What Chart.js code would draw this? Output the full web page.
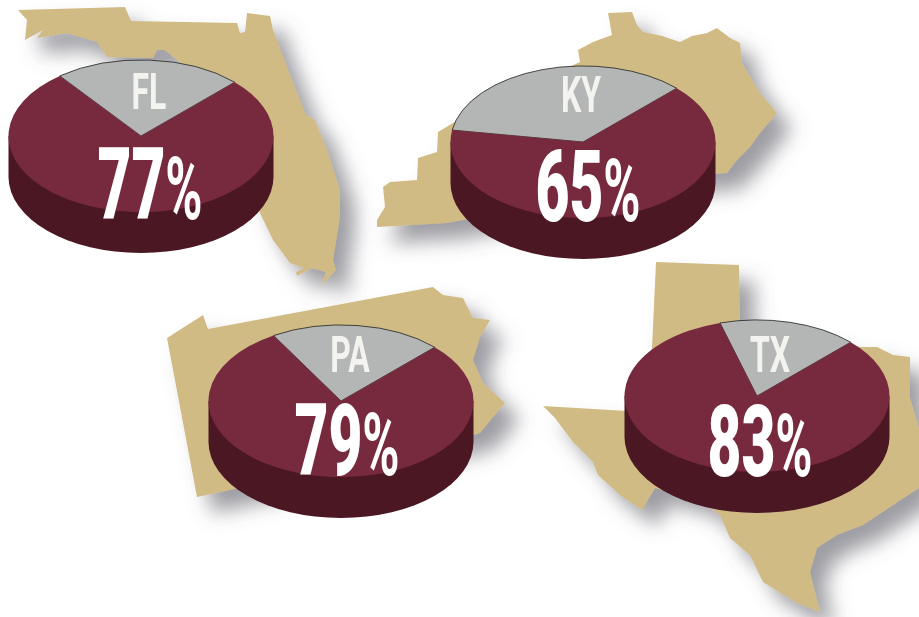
<!DOCTYPE html>
<html>
<head>
<meta charset="utf-8">
<title>State pies</title>
<script src="https://cdn.jsdelivr.net/npm/chart.js@4"></script>
<style>
html,body{margin:0;padding:0;background:#fff;overflow:hidden}
#stage{position:relative;width:919px;height:617px;overflow:hidden;background:#fff}
svg{position:absolute;left:0;top:0}
canvas{position:absolute}
.t{position:absolute;white-space:nowrap;line-height:1;color:#fff;font-family:Roboto,"Liberation Sans",sans-serif}
.pct{font-weight:900;font-size:101px}
.pct span{font-size:86%;font-weight:700}
.lab{font-weight:700;font-size:50px;color:#f3f3f0}
</style>
</head>
<body>
<div id="stage">
<svg width="919" height="617" viewBox="0 0 919 617">
<defs><filter id="sh" x="-20%" y="-20%" width="150%" height="150%"><feDropShadow dx="15" dy="16" stdDeviation="10" flood-color="#5b5b66" flood-opacity="0.6"/></filter></defs>
<g fill="#D1BB85" filter="url(#sh)">
<path id="fl"/><path id="ky"/><path id="pa"/><path id="tx"/>
</g>
</svg>
</div>
<script>
// Data
const states = ['FL', 'KY', 'PA', 'TX'];
const yesShare = [77, 65, 79, 83];
const otherShare = [23, 35, 21, 17];

// Layout (separate from the data)
const pieCentres = [[141, 136], [583, 142], [341, 401], [757, 396]];
const pctCentres = [[150, 184], [588, 186], [347, 440], [760, 441]];
const labCentres = [[149, 92], [581, 95], [350, 355], [770, 355]];
const sliceEndAngle = 45, squash = 0.574, wallDepth = 41, box = 290;
const colours = { top: '#772A3E', other: '#B4B5B5', wall: '#4A1722', edge: '#1d1d1d' };

// Decorative state silhouettes
const outlines = {
  fl: [[18,10],[125,7],[131,21],[237,23],[240,33],[245,32],[247,13],[270,16],[273,30],[287,67],[300,100],[306,115],[315,120],[328,153],[340,190],[340,217],[333,260],[336,270],[322,285],[326,272],[312,268],[297,276],[296,272],[304,268],[290,263],[273,240],[260,213],[230,130],[215,90],[177,60],[165,50],[157,50],[153,58],[107,57],[97,42],[67,33],[37,38],[43,30],[25,40],[27,20]],
  ky: [[377,227],[377,220],[385,207],[383,187],[390,182],[417,180],[418,158],[437,152],[438,132],[453,123],[520,90],[580,62],[578,50],[593,42],[612,35],[608,13],[632,12],[637,25],[643,32],[662,36],[680,42],[692,36],[707,33],[717,28],[730,38],[740,43],[742,63],[752,80],[760,93],[777,113],[760,133],[750,147],[737,160],[727,173],[700,175],[447,223]],
  pa: [[167,338],[203,315],[208,329],[433,287],[443,295],[463,298],[473,318],[490,320],[480,337],[473,360],[483,383],[505,403],[493,417],[480,433],[470,436],[230,490],[197,497]],
  tx: [[656,262],[739,265],[740,322],[790,330],[860,347],[877,347],[893,355],[910,357],[910,398],[919,428],[919,488],[893,505],[863,525],[837,535],[817,548],[810,572],[820,612],[797,603],[763,582],[750,555],[730,538],[720,515],[700,500],[655,488],[642,510],[620,495],[598,475],[593,462],[573,442],[555,418],[543,406],[627,411],[652,348]]
};
Object.keys(outlines).forEach(function (k) {
  document.getElementById(k).setAttribute('d', 'M' + outlines[k].map(function (p) { return p.join(','); }).join('L') + 'Z');
});

// Tilts the pie into an ellipse and adds the side wall below it
const tiltPlugin = {
  id: 'tilt',
  beforeDatasetsDraw: function (chart) {
    const a = chart.getDatasetMeta(0).data[0];
    const c = chart.ctx, x = a.x, y = a.y, r = a.outerRadius;
    c.save();
    c.fillStyle = colours.wall;
    c.beginPath();
    c.ellipse(x, y + wallDepth, r, r * squash, 0, 0, Math.PI);
    c.lineTo(x - r, y);
    c.lineTo(x + r, y);
    c.closePath();
    c.fill();
    c.translate(x, y);
    c.scale(1, squash);
    c.translate(-x, -y);
  },
  afterDatasetsDraw: function (chart) { chart.ctx.restore(); }
};

const stage = document.getElementById('stage');
states.forEach(function (st, i) {
  const cv = document.createElement('canvas');
  cv.width = box; cv.height = box;
  cv.style.left = (pieCentres[i][0] - box / 2) + 'px';
  cv.style.top = (pieCentres[i][1] - box / 2) + 'px';
  cv.style.width = box + 'px'; cv.style.height = box + 'px';
  stage.appendChild(cv);
  new Chart(cv, {
    type: 'pie',
    data: {
      labels: ['Other', 'Share'],
      datasets: [{
        data: [otherShare[i], yesShare[i]],
        backgroundColor: [colours.other, colours.top],
        borderColor: [colours.edge, colours.top],
        borderWidth: [1, 0]
      }]
    },
    options: {
      responsive: false,
      animation: false,
      rotation: sliceEndAngle - otherShare[i] * 3.6,
      layout: { padding: 12 },
      plugins: { legend: { display: false }, tooltip: { enabled: false } }
    },
    plugins: [tiltPlugin]
  });

  const pct = document.createElement('div');
  pct.className = 't pct';
  pct.innerHTML = yesShare[i] + '<span>%</span>';
  pct.style.left = pctCentres[i][0] + 'px';
  pct.style.top = pctCentres[i][1] + 'px';
  pct.style.transform = 'translate(-50%,-50%) scaleX(0.58)';
  stage.appendChild(pct);

  const lab = document.createElement('div');
  lab.className = 't lab';
  lab.textContent = st;
  lab.style.left = labCentres[i][0] + 'px';
  lab.style.top = labCentres[i][1] + 'px';
  lab.style.transform = 'translate(-50%,-50%) scaleX(0.64)';
  stage.appendChild(lab);
});
</script>
</body>
</html>
